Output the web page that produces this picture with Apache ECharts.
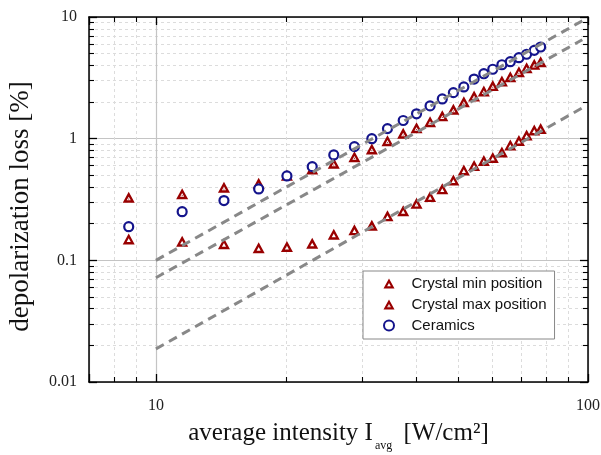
<!DOCTYPE html>
<html><head><meta charset="utf-8">
<script src="https://cdn.jsdelivr.net/npm/echarts@6/dist/echarts.min.js"></script>
<style>html,body{margin:0;padding:0;background:#fff}#c{width:601px;height:455px}</style>
</head><body><div id="c"></div>
<script>
// ---- data ----
const intensity = [8.65, 11.5, 14.37, 17.29, 20.1, 23.0, 25.8, 28.8, 31.6, 34.35, 37.35, 40.1, 43.1, 46.0, 48.8, 51.6, 54.5, 57.4, 60.2, 63.2, 66.1, 69.2, 72.1, 75.1, 77.7];
const crystalMin = [0.150, 0.1435, 0.137, 0.127, 0.130, 0.138, 0.164, 0.178, 0.194, 0.232, 0.256, 0.294, 0.334, 0.387, 0.458, 0.553, 0.602, 0.662, 0.701, 0.778, 0.888, 0.966, 1.072, 1.179, 1.21];
const crystalMax = [0.330, 0.353, 0.399, 0.430, 0.50, 0.564, 0.628, 0.711, 0.823, 0.963, 1.107, 1.231, 1.38, 1.54, 1.745, 2.01, 2.24, 2.47, 2.73, 2.98, 3.23, 3.55, 3.83, 4.08, 4.29];
const ceramics = [0.189, 0.251, 0.31, 0.386, 0.494, 0.589, 0.735, 0.86, 1.0, 1.21, 1.41, 1.60, 1.86, 2.12, 2.39, 2.66, 3.09, 3.42, 3.72, 4.05, 4.29, 4.63, 4.94, 5.32, 5.67];
const fitX = [10, 97];
const fitCeramics = [0.1, 9.3];
const fitMax = [0.072, 6.5];
const fitMin = [0.0187, 1.79];
const seriesNames = ['Crystal min position', 'Crystal max position', 'Ceramics'];

const RED = '#990000', BLUE = '#14148c';
const triRing = 'path://M50 0 L100 90 L0 90 Z M50 40 L33 70 L67 70 Z';
const triDot = 'path://M50 0 L100 90 L0 90 Z M50 40 L33 70 L67 70 Z M50 53 L55.5 63.5 L44.5 63.5 Z';
const pairs = (xs, ys) => xs.map((x, i) => [x, ys[i]]);
const serif = 'Liberation Serif';

const baseLog = (extra) => Object.assign({
  type: 'log', logBase: 10,
  axisLine: { show: true, onZero: false, lineStyle: { color: '#000', width: 1.5 } },
  axisTick: { show: true, inside: true, length: 8, lineStyle: { color: '#000', width: 1.3 } },
  minorTick: { show: true, splitNumber: 9, length: 5, lineStyle: { color: '#000', width: 1.1 } },
}, extra);

const chart = echarts.init(document.getElementById('c'), null, { renderer: 'canvas' });
chart.setOption({
  animation: false,
  backgroundColor: '#fff',
  grid: { left: 89, right: 13, top: 17, bottom: 73, containLabel: false, outerBoundsMode: 'none' },
  legend: {
    data: seriesNames, orient: 'vertical', left: 363, top: 271,
    padding: [5, 8, 6, 20], itemGap: 6, itemWidth: 11, itemHeight: 10,
    borderColor: '#888', borderWidth: 1, backgroundColor: '#fff',
    textStyle: { fontFamily: 'Liberation Sans', fontSize: 15, color: '#111', lineHeight: 14, padding: [0, 0, 0, 12] }
  },
  xAxis: [
    baseLog({ min: 7, max: 100, position: 'bottom',
      name: '{m|average intensity I}{s|avg}{m| [W/cm²]}', nameLocation: 'middle', nameGap: 39,
      nameTextStyle: { rich: {
        m: { fontFamily: serif, fontSize: 25, color: '#111', lineHeight: 26, verticalAlign: 'top' },
        s: { fontFamily: serif, fontSize: 12, color: '#111', lineHeight: 12, verticalAlign: 'top', padding: [19, 5, 0, 2] } } },
      axisLabel: { fontFamily: serif, fontSize: 16, color: '#222', margin: 16, showMinLabel: false },
      splitLine: { show: true, lineStyle: { color: '#c4c4c4', width: 1.2 } },
      minorSplitLine: { show: true, lineStyle: { color: '#dcdcdc', width: 1, type: [3, 3] } } }),
    baseLog({ min: 7, max: 100, position: 'top', axisLabel: { show: false }, splitLine: { show: false } })
  ],
  yAxis: [
    baseLog({ min: 0.01, max: 10, position: 'left',
      name: 'depolarization loss [%]', nameLocation: 'middle', nameGap: 55, nameRotate: 90,
      nameTextStyle: { fontFamily: serif, fontSize: 27, color: '#111', padding: [0, 14, 0, 0] },
      axisLabel: { fontFamily: serif, fontSize: 16, color: '#222', margin: 12 },
      splitLine: { show: true, lineStyle: { color: '#c4c4c4', width: 1.2 } },
      minorSplitLine: { show: true, lineStyle: { color: '#dcdcdc', width: 1, type: [3, 3] } } }),
    baseLog({ min: 0.01, max: 10, position: 'right', axisLabel: { show: false }, splitLine: { show: false } })
  ],
  series: [
    { name: seriesNames[0], type: 'scatter', data: pairs(intensity, crystalMin), symbol: triRing, symbolSize: [12, 11],
      itemStyle: { color: RED, opacity: 1 }, z: 3 },
    { name: seriesNames[1], type: 'scatter', data: pairs(intensity, crystalMax), symbol: triDot, symbolSize: [12, 11],
      itemStyle: { color: RED, opacity: 1 }, z: 3 },
    { name: seriesNames[2], type: 'scatter', data: pairs(intensity, ceramics), symbol: 'circle', symbolSize: 9,
      itemStyle: { color: '#fff', borderColor: BLUE, borderWidth: 2.2, opacity: 1 }, z: 3 },
    { name: 'fit1', type: 'line', data: pairs(fitX, fitCeramics), symbol: 'none', silent: true, z: 4,
      lineStyle: { color: '#888', width: 3, type: [9, 6] } },
    { name: 'fit2', type: 'line', data: pairs(fitX, fitMax), symbol: 'none', silent: true, z: 4,
      lineStyle: { color: '#888', width: 3, type: [9, 6] } },
    { name: 'fit3', type: 'line', data: pairs(fitX, fitMin), symbol: 'none', silent: true, z: 4,
      lineStyle: { color: '#888', width: 3, type: [9, 6] } }
  ]
});
</script></body></html>
